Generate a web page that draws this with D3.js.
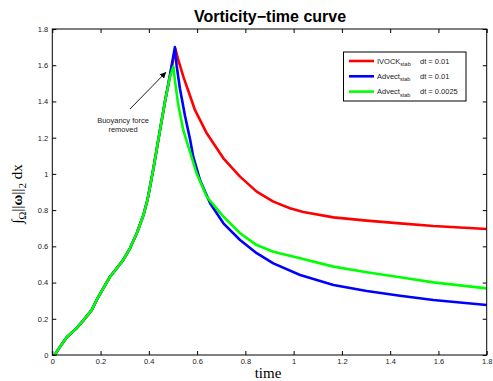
<!DOCTYPE html>
<html>
<head>
<meta charset="utf-8">
<script src="https://cdn.jsdelivr.net/npm/d3@7"></script>
<style>
  body { margin: 0; background: #fff; }
  svg { display: block; font-family: 'Liberation Sans', Arial, sans-serif; }
</style>
</head>
<body>
<svg id="chart"></svg>
<script>
// Values: [time, vorticity norm].
const ivockStab = [
  [0.01, 0], [0.032, 0.046], [0.06, 0.098], [0.10, 0.147], [0.128, 0.19],
  [0.163, 0.248], [0.184, 0.304], [0.211, 0.368], [0.239, 0.432], [0.267, 0.479],
  [0.294, 0.525], [0.322, 0.589], [0.35, 0.672], [0.377, 0.77], [0.395, 0.86],
  [0.419, 1.03], [0.446, 1.24], [0.467, 1.40], [0.488, 1.54], [0.51, 1.69],
  [0.522, 1.629], [0.543, 1.537], [0.571, 1.43], [0.591, 1.353], [0.64, 1.224],
  [0.709, 1.086], [0.778, 0.985], [0.847, 0.902], [0.916, 0.847], [0.985, 0.810],
  [1.04, 0.790], [1.165, 0.760], [1.303, 0.742], [1.441, 0.727], [1.579, 0.712],
  [1.8, 0.696],
];
const advectStab01 = [
  [0.01, 0], [0.032, 0.046], [0.06, 0.098], [0.10, 0.147], [0.128, 0.19],
  [0.163, 0.248], [0.184, 0.304], [0.211, 0.368], [0.239, 0.432], [0.267, 0.479],
  [0.294, 0.525], [0.322, 0.589], [0.35, 0.672], [0.377, 0.77], [0.395, 0.86],
  [0.419, 1.03], [0.446, 1.24], [0.467, 1.40], [0.488, 1.55], [0.508, 1.70],
  [0.515, 1.60], [0.529, 1.47], [0.55, 1.32], [0.571, 1.19], [0.584, 1.095],
  [0.612, 0.966], [0.654, 0.838], [0.709, 0.727], [0.778, 0.635], [0.847, 0.562],
  [0.916, 0.506], [1.027, 0.442], [1.165, 0.387], [1.303, 0.353], [1.441, 0.327],
  [1.579, 0.304], [1.8, 0.276],
];
const advectStab0025 = [
  [0.01, 0], [0.032, 0.046], [0.06, 0.098], [0.10, 0.147], [0.128, 0.19],
  [0.163, 0.248], [0.184, 0.304], [0.211, 0.368], [0.239, 0.432], [0.267, 0.479],
  [0.294, 0.525], [0.322, 0.589], [0.35, 0.672], [0.377, 0.77], [0.395, 0.86],
  [0.419, 1.03], [0.446, 1.24], [0.467, 1.40], [0.488, 1.54], [0.502, 1.592],
  [0.508, 1.518], [0.522, 1.38], [0.543, 1.24], [0.571, 1.12], [0.598, 1.003],
  [0.64, 0.874], [0.709, 0.764], [0.778, 0.672], [0.847, 0.607], [0.916, 0.570],
  [1.027, 0.534], [1.165, 0.488], [1.303, 0.457], [1.441, 0.429], [1.579, 0.401],
  [1.8, 0.368],
];

const xTicks = [0, 0.2, 0.4, 0.6, 0.8, 1, 1.2, 1.4, 1.6, 1.8];
const yTicks = [0, 0.2, 0.4, 0.6, 0.8, 1, 1.2, 1.4, 1.6, 1.8];

const series = [
  { name: 'IVOCK', sub: 'stab', dt: 'dt = 0.01', color: '#ff0000', data: ivockStab },
  { name: 'Advect', sub: 'stab', dt: 'dt = 0.01', color: '#0000ff', data: advectStab01 },
  { name: 'Advect', sub: 'stab', dt: 'dt = 0.0025', color: '#00ff00', data: advectStab0025 },
];

const width = 493;
const height = 381;
const plot = { left: 52.3, right: 486.7, top: 29, bottom: 355 };

const svg = d3.select('#chart')
  .attr('width', width)
  .attr('height', height)
  .attr('viewBox', `0 0 ${width} ${height}`);

svg.append('rect').attr('width', width).attr('height', height).attr('fill', '#fff');

const x = d3.scaleLinear().domain([0, 1.8]).range([plot.left, plot.right]);
const y = d3.scaleLinear().domain([0, 1.8]).range([plot.bottom, plot.top]);
const fmt = d3.format('~g');

// Axes: ticks pointing inward on all four sides, like MATLAB's box.
const styleAxis = (g) => {
  g.select('.domain').remove();
  g.selectAll('.tick line').attr('stroke', '#000');
  g.selectAll('.tick text').attr('fill', '#222').style('font-size', '7.5px');
};

svg.append('g')
  .attr('transform', `translate(0,${plot.bottom})`)
  .call(d3.axisBottom(x).tickValues(xTicks).tickFormat(fmt).tickSizeInner(-4).tickSizeOuter(0).tickPadding(4))
  .call(styleAxis);
svg.append('g')
  .attr('transform', `translate(0,${plot.top})`)
  .call(d3.axisTop(x).tickValues(xTicks).tickFormat('').tickSizeInner(-4).tickSizeOuter(0))
  .call(styleAxis);
svg.append('g')
  .attr('transform', `translate(${plot.left},0)`)
  .call(d3.axisLeft(y).tickValues(yTicks).tickFormat(fmt).tickSizeInner(-4).tickSizeOuter(0).tickPadding(4))
  .call(styleAxis);
svg.append('g')
  .attr('transform', `translate(${plot.right},0)`)
  .call(d3.axisRight(y).tickValues(yTicks).tickFormat('').tickSizeInner(-4).tickSizeOuter(0))
  .call(styleAxis);

const line = d3.line()
  .x((d) => x(d[0]))
  .y((d) => y(d[1]));

series.forEach((s) => {
  svg.append('path')
    .datum(s.data)
    .attr('d', line)
    .attr('fill', 'none')
    .attr('stroke', s.color)
    .attr('stroke-width', 2.6)
    .attr('stroke-linejoin', 'round');
});

// Plot box.
svg.append('rect')
  .attr('x', plot.left)
  .attr('y', plot.top)
  .attr('width', plot.right - plot.left)
  .attr('height', plot.bottom - plot.top)
  .attr('fill', 'none')
  .attr('stroke', '#000')
  .attr('stroke-width', 1);

// Title.
svg.append('text')
  .attr('x', 270)
  .attr('y', 22)
  .attr('text-anchor', 'middle')
  .style('font-size', '16px')
  .style('font-weight', 'bold')
  .text('Vorticity\u2212time curve');

// X axis label.
svg.append('text')
  .attr('x', 268)
  .attr('y', 378)
  .attr('text-anchor', 'middle')
  .style('font-family', "'Liberation Serif', 'Times New Roman', serif")
  .style('font-size', '15px')
  .text('time');

// Y axis label.
const yLabel = svg.append('text')
  .attr('transform', `translate(22,${194}) rotate(-90)`)
  .attr('text-anchor', 'middle')
  .style('font-family', "'Liberation Serif', 'Times New Roman', serif")
  .style('font-size', '15px');
yLabel.append('tspan').text('\u222B');
yLabel.append('tspan').attr('dy', 4).style('font-size', '11px').text('\u03A9');
yLabel.append('tspan').attr('dy', -4).text('||');
yLabel.append('tspan').style('font-weight', 'bold').text('\u03C9');
yLabel.append('tspan').text('||');
yLabel.append('tspan').attr('dy', 4).style('font-size', '11px').text('2');
yLabel.append('tspan').attr('dy', -4).text(' dx');

// Annotation with arrow.
svg.append('defs').append('marker')
  .attr('id', 'arrow')
  .attr('viewBox', '0 0 10 10')
  .attr('refX', 9)
  .attr('refY', 5)
  .attr('markerWidth', 7)
  .attr('markerHeight', 7)
  .attr('orient', 'auto')
  .append('path')
  .attr('d', 'M0,0 L10,5 L0,10 Z')
  .attr('fill', '#000');

svg.append('line')
  .attr('x1', 130)
  .attr('y1', 109)
  .attr('x2', x(0.47))
  .attr('y2', y(1.56))
  .attr('stroke', '#000')
  .attr('stroke-width', 0.9)
  .attr('marker-end', 'url(#arrow)');

const note = svg.append('text')
  .attr('text-anchor', 'middle')
  .style('font-size', '7.5px')
  .attr('fill', '#222');
note.append('tspan').attr('x', 123).attr('y', 123).text('Buoyancy force');
note.append('tspan').attr('x', 123).attr('y', 132).text('removed');

// Legend.
const legend = svg.append('g');
legend.append('rect')
  .attr('x', 343.5)
  .attr('y', 52)
  .attr('width', 122.5)
  .attr('height', 49)
  .attr('fill', '#fff')
  .attr('stroke', '#000')
  .attr('stroke-width', 1);

series.forEach((s, i) => {
  const ly = 61 + i * 15.3;
  legend.append('line')
    .attr('x1', 349)
    .attr('x2', 374)
    .attr('y1', ly)
    .attr('y2', ly)
    .attr('stroke', s.color)
    .attr('stroke-width', 2.6);
  const t = legend.append('text')
    .attr('x', 377)
    .attr('y', ly + 2.5)
    .style('font-size', '7.5px')
    .attr('fill', '#222');
  t.append('tspan').text(s.name);
  t.append('tspan').attr('dy', 2.5).style('font-size', '5.5px').text(s.sub);
  legend.append('text')
    .attr('x', 420)
    .attr('y', ly + 2.5)
    .style('font-size', '7.5px')
    .attr('fill', '#222')
    .text(s.dt);
});
</script>
</body>
</html>
